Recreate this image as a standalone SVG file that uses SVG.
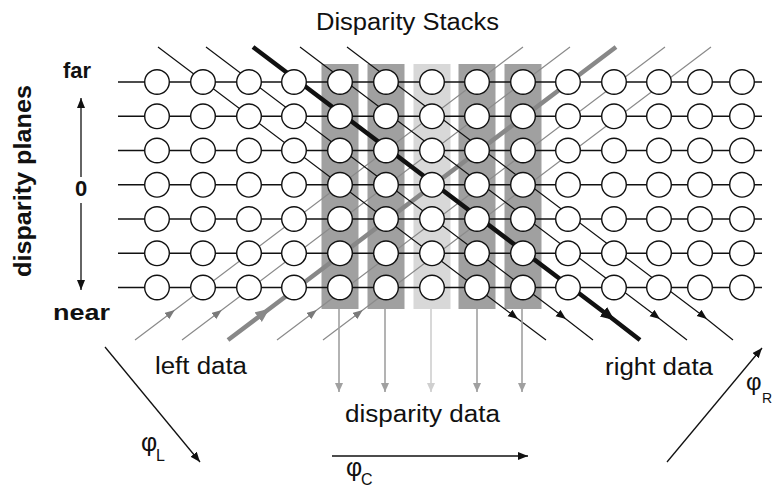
<svg xmlns="http://www.w3.org/2000/svg" xmlns:xlink="http://www.w3.org/1999/xlink" width="773" height="490" viewBox="0 0 773 490">
<style>
.txt{font-family:"Liberation Sans",Arial,sans-serif;fill:#111}
.b{font-weight:bold}
.stk{fill:#a0a0a0}
.stkL{fill:#d8d8d8}
.h{stroke:#111;stroke-width:1.4}
.dr{stroke:#111;stroke-width:1.2;fill:none}
.drT{stroke:#111;stroke-width:4.5;fill:none}
.ur{stroke:#8a8a8a;stroke-width:1.2;fill:none}
.urT{stroke:#888;stroke-width:4.5;fill:none}
.n circle{fill:#fff;stroke:#111;stroke-width:1.4}
.ax{stroke:#111;stroke-width:1.3;fill:none}
.va{stroke:#a0a0a0;stroke-width:1.6}
.vaL{stroke:#cfcfcf;stroke-width:1.6}
</style>
<defs>
<marker id="mB" markerUnits="userSpaceOnUse" markerWidth="12" markerHeight="10" refX="5" refY="4" orient="auto"><path d="M0,0 L10,4 L0,8 Z" fill="#111"/></marker>
<marker id="mBT" markerUnits="userSpaceOnUse" markerWidth="16" markerHeight="14" refX="7" refY="6" orient="auto"><path d="M0,0 L14,6 L0,12 Z" fill="#111"/></marker>
<marker id="mG" markerUnits="userSpaceOnUse" markerWidth="12" markerHeight="10" refX="5" refY="4" orient="auto"><path d="M0,0 L10,4 L0,8 Z" fill="#7a7a7a"/></marker>
<marker id="mGT" markerUnits="userSpaceOnUse" markerWidth="16" markerHeight="14" refX="7" refY="6" orient="auto"><path d="M0,0 L14,6 L0,12 Z" fill="#888"/></marker>
<marker id="mV" markerUnits="userSpaceOnUse" markerWidth="10" markerHeight="10" refX="9" refY="4" orient="auto"><path d="M0,0 L9,4 L0,8 Z" fill="#a0a0a0"/></marker>
<marker id="mVL" markerUnits="userSpaceOnUse" markerWidth="10" markerHeight="10" refX="9" refY="4" orient="auto"><path d="M0,0 L9,4 L0,8 Z" fill="#cfcfcf"/></marker>
<marker id="mA" markerUnits="userSpaceOnUse" markerWidth="12" markerHeight="10" refX="10" refY="4" orient="auto"><path d="M0,0 L10,4 L0,8 Z" fill="#111"/></marker>
</defs>

<rect width="773" height="490" fill="#fff"/>

<g id="stacks">
<rect class="stk" x="321.5" y="64" width="37" height="245"/>
<rect class="stk" x="367.5" y="64" width="37" height="245"/>
<rect class="stkL" x="413.5" y="64" width="37" height="245"/>
<rect class="stk" x="458.5" y="64" width="37" height="245"/>
<rect class="stk" x="504.5" y="64" width="37" height="245"/>
</g>

<g id="connectors">
<g id="rows">
<line class="h" x1="118" y1="82" x2="762" y2="82"/>
<line class="h" x1="118" y1="116.3" x2="762" y2="116.3"/>
<line class="h" x1="118" y1="150.5" x2="762" y2="150.5"/>
<line class="h" x1="118" y1="184.8" x2="762" y2="184.8"/>
<line class="h" x1="118" y1="219" x2="762" y2="219"/>
<line class="h" x1="118" y1="253.3" x2="762" y2="253.3"/>
<line class="h" x1="118" y1="287.5" x2="762" y2="287.5"/>
</g>
<g id="left-rays">
<path class="ur" d="M135,340 L170.8,313 L523,47" marker-mid="url(#mG)"/>
<path class="ur" d="M182,340 L217.8,313 L570,47" marker-mid="url(#mG)"/>
<path class="urT" d="M228,340 L263.8,313 L616,47" marker-mid="url(#mGT)"/>
<path class="ur" d="M277,340 L312.8,313 L665,47" marker-mid="url(#mG)"/>
<path class="ur" d="M323,340 L358.8,313 L711,47" marker-mid="url(#mG)"/>
</g>
<g id="right-rays">
<path class="dr" d="M158,47 L514,316 L546,340" marker-mid="url(#mB)"/>
<path class="dr" d="M206,47 L562,316 L593,340" marker-mid="url(#mB)"/>
<path class="drT" d="M253,47 L609,316 L640,340" marker-mid="url(#mBT)"/>
<path class="dr" d="M300,47 L656,316 L687,340" marker-mid="url(#mB)"/>
<path class="dr" d="M347,47 L703,316 L733,340" marker-mid="url(#mB)"/>
</g>
<g id="stack-outputs">
<line class="va" x1="339" y1="309" x2="339" y2="392" marker-end="url(#mV)"/>
<line class="va" x1="385" y1="309" x2="385" y2="392" marker-end="url(#mV)"/>
<line class="vaL" x1="431" y1="309" x2="431" y2="392" marker-end="url(#mVL)"/>
<line class="va" x1="477" y1="309" x2="477" y2="392" marker-end="url(#mV)"/>
<line class="va" x1="522" y1="309" x2="522" y2="392" marker-end="url(#mV)"/>
</g>
<g id="axes">
<line class="ax" x1="81" y1="177" x2="81" y2="98" marker-end="url(#mA)"/>
<line class="ax" x1="81" y1="203" x2="81" y2="290" marker-end="url(#mA)"/>
<line class="ax" x1="105" y1="347" x2="200" y2="462" marker-end="url(#mA)"/>
<line class="ax" x1="332" y1="456" x2="528" y2="456" marker-end="url(#mA)"/>
<line class="ax" x1="667" y1="462" x2="762" y2="348" marker-end="url(#mA)"/>
</g>
</g>

<g class="n" id="col0"><circle id="n0_0" cx="157" cy="82" r="12.3"/><circle id="n1_0" cx="157" cy="116.3" r="12.3"/><circle id="n2_0" cx="157" cy="150.5" r="12.3"/><circle id="n3_0" cx="157" cy="184.8" r="12.3"/><circle id="n4_0" cx="157" cy="219" r="12.3"/><circle id="n5_0" cx="157" cy="253.3" r="12.3"/><circle id="n6_0" cx="157" cy="287.5" r="12.3"/></g>
<g class="n" id="col1"><circle id="n0_1" cx="203" cy="82" r="12.3"/><circle id="n1_1" cx="203" cy="116.3" r="12.3"/><circle id="n2_1" cx="203" cy="150.5" r="12.3"/><circle id="n3_1" cx="203" cy="184.8" r="12.3"/><circle id="n4_1" cx="203" cy="219" r="12.3"/><circle id="n5_1" cx="203" cy="253.3" r="12.3"/><circle id="n6_1" cx="203" cy="287.5" r="12.3"/></g>
<g class="n" id="col2"><circle id="n0_2" cx="249" cy="82" r="12.3"/><circle id="n1_2" cx="249" cy="116.3" r="12.3"/><circle id="n2_2" cx="249" cy="150.5" r="12.3"/><circle id="n3_2" cx="249" cy="184.8" r="12.3"/><circle id="n4_2" cx="249" cy="219" r="12.3"/><circle id="n5_2" cx="249" cy="253.3" r="12.3"/><circle id="n6_2" cx="249" cy="287.5" r="12.3"/></g>
<g class="n" id="col3"><circle id="n0_3" cx="294" cy="82" r="12.3"/><circle id="n1_3" cx="294" cy="116.3" r="12.3"/><circle id="n2_3" cx="294" cy="150.5" r="12.3"/><circle id="n3_3" cx="294" cy="184.8" r="12.3"/><circle id="n4_3" cx="294" cy="219" r="12.3"/><circle id="n5_3" cx="294" cy="253.3" r="12.3"/><circle id="n6_3" cx="294" cy="287.5" r="12.3"/></g>
<g class="n" id="col4"><circle id="n0_4" cx="340" cy="82" r="12.3"/><circle id="n1_4" cx="340" cy="116.3" r="12.3"/><circle id="n2_4" cx="340" cy="150.5" r="12.3"/><circle id="n3_4" cx="340" cy="184.8" r="12.3"/><circle id="n4_4" cx="340" cy="219" r="12.3"/><circle id="n5_4" cx="340" cy="253.3" r="12.3"/><circle id="n6_4" cx="340" cy="287.5" r="12.3"/></g>
<g class="n" id="col5"><circle id="n0_5" cx="386" cy="82" r="12.3"/><circle id="n1_5" cx="386" cy="116.3" r="12.3"/><circle id="n2_5" cx="386" cy="150.5" r="12.3"/><circle id="n3_5" cx="386" cy="184.8" r="12.3"/><circle id="n4_5" cx="386" cy="219" r="12.3"/><circle id="n5_5" cx="386" cy="253.3" r="12.3"/><circle id="n6_5" cx="386" cy="287.5" r="12.3"/></g>
<g class="n" id="col6"><circle id="n0_6" cx="432" cy="82" r="12.3"/><circle id="n1_6" cx="432" cy="116.3" r="12.3"/><circle id="n2_6" cx="432" cy="150.5" r="12.3"/><circle id="n3_6" cx="432" cy="184.8" r="12.3"/><circle id="n4_6" cx="432" cy="219" r="12.3"/><circle id="n5_6" cx="432" cy="253.3" r="12.3"/><circle id="n6_6" cx="432" cy="287.5" r="12.3"/></g>
<g class="n" id="col7"><circle id="n0_7" cx="477" cy="82" r="12.3"/><circle id="n1_7" cx="477" cy="116.3" r="12.3"/><circle id="n2_7" cx="477" cy="150.5" r="12.3"/><circle id="n3_7" cx="477" cy="184.8" r="12.3"/><circle id="n4_7" cx="477" cy="219" r="12.3"/><circle id="n5_7" cx="477" cy="253.3" r="12.3"/><circle id="n6_7" cx="477" cy="287.5" r="12.3"/></g>
<g class="n" id="col8"><circle id="n0_8" cx="523" cy="82" r="12.3"/><circle id="n1_8" cx="523" cy="116.3" r="12.3"/><circle id="n2_8" cx="523" cy="150.5" r="12.3"/><circle id="n3_8" cx="523" cy="184.8" r="12.3"/><circle id="n4_8" cx="523" cy="219" r="12.3"/><circle id="n5_8" cx="523" cy="253.3" r="12.3"/><circle id="n6_8" cx="523" cy="287.5" r="12.3"/></g>
<g class="n" id="col9"><circle id="n0_9" cx="568" cy="82" r="12.3"/><circle id="n1_9" cx="568" cy="116.3" r="12.3"/><circle id="n2_9" cx="568" cy="150.5" r="12.3"/><circle id="n3_9" cx="568" cy="184.8" r="12.3"/><circle id="n4_9" cx="568" cy="219" r="12.3"/><circle id="n5_9" cx="568" cy="253.3" r="12.3"/><circle id="n6_9" cx="568" cy="287.5" r="12.3"/></g>
<g class="n" id="col10"><circle id="n0_10" cx="614" cy="82" r="12.3"/><circle id="n1_10" cx="614" cy="116.3" r="12.3"/><circle id="n2_10" cx="614" cy="150.5" r="12.3"/><circle id="n3_10" cx="614" cy="184.8" r="12.3"/><circle id="n4_10" cx="614" cy="219" r="12.3"/><circle id="n5_10" cx="614" cy="253.3" r="12.3"/><circle id="n6_10" cx="614" cy="287.5" r="12.3"/></g>
<g class="n" id="col11"><circle id="n0_11" cx="659" cy="82" r="12.3"/><circle id="n1_11" cx="659" cy="116.3" r="12.3"/><circle id="n2_11" cx="659" cy="150.5" r="12.3"/><circle id="n3_11" cx="659" cy="184.8" r="12.3"/><circle id="n4_11" cx="659" cy="219" r="12.3"/><circle id="n5_11" cx="659" cy="253.3" r="12.3"/><circle id="n6_11" cx="659" cy="287.5" r="12.3"/></g>
<g class="n" id="col12"><circle id="n0_12" cx="700" cy="82" r="12.3"/><circle id="n1_12" cx="700" cy="116.3" r="12.3"/><circle id="n2_12" cx="700" cy="150.5" r="12.3"/><circle id="n3_12" cx="700" cy="184.8" r="12.3"/><circle id="n4_12" cx="700" cy="219" r="12.3"/><circle id="n5_12" cx="700" cy="253.3" r="12.3"/><circle id="n6_12" cx="700" cy="287.5" r="12.3"/></g>
<g class="n" id="col13"><circle id="n0_13" cx="742" cy="82" r="12.3"/><circle id="n1_13" cx="742" cy="116.3" r="12.3"/><circle id="n2_13" cx="742" cy="150.5" r="12.3"/><circle id="n3_13" cx="742" cy="184.8" r="12.3"/><circle id="n4_13" cx="742" cy="219" r="12.3"/><circle id="n5_13" cx="742" cy="253.3" r="12.3"/><circle id="n6_13" cx="742" cy="287.5" r="12.3"/></g>

<g id="labels">
<text class="txt" x="316" y="29.5" font-size="23" textLength="183" lengthAdjust="spacingAndGlyphs">Disparity Stacks</text>
<text class="txt b" transform="translate(31,181) rotate(-90)" text-anchor="middle" font-size="24" textLength="192" lengthAdjust="spacingAndGlyphs">disparity planes</text>
<text class="txt b" x="63" y="78" font-size="22" textLength="28" lengthAdjust="spacingAndGlyphs">far</text>
<text class="txt b" x="81" y="196" font-size="22" text-anchor="middle">0</text>
<text class="txt b" x="53" y="320" font-size="22" textLength="57" lengthAdjust="spacingAndGlyphs">near</text>
<text class="txt" x="155" y="374" font-size="23" textLength="92" lengthAdjust="spacingAndGlyphs">left data</text>
<text class="txt" x="605" y="375" font-size="23" textLength="108" lengthAdjust="spacingAndGlyphs">right data</text>
<text class="txt" x="345" y="422" font-size="23" textLength="155" lengthAdjust="spacingAndGlyphs">disparity data</text>
<text class="txt" x="141" y="451" font-size="25">φ<tspan x="156" y="461" font-size="16">L</tspan></text>
<text class="txt" x="346" y="476" font-size="25">φ<tspan x="361" y="485" font-size="16">C</tspan></text>
<text class="txt" x="746" y="390" font-size="24">φ</text>
<text class="txt" x="762" y="403" font-size="14">R</text>
</g>
</svg>
